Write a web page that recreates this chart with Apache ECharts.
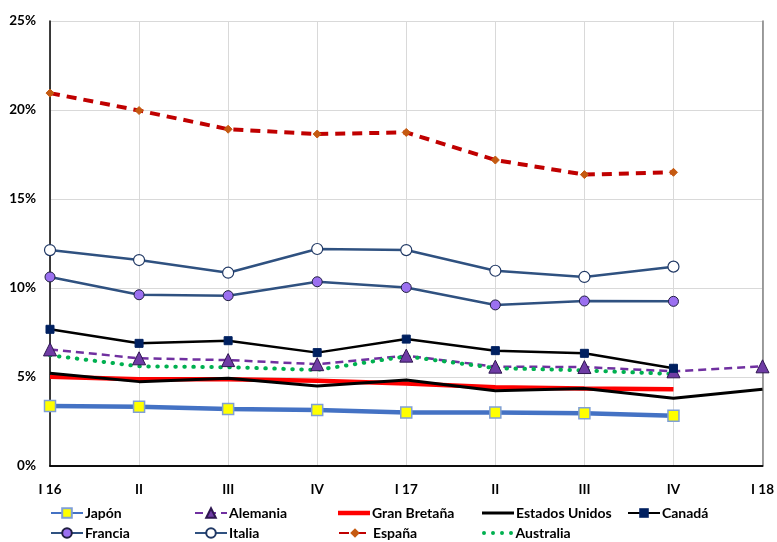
<!DOCTYPE html>
<html>
<head>
<meta charset="utf-8">
<script src="https://cdn.jsdelivr.net/npm/echarts@6/dist/echarts.min.js"></script>
<style>html,body{margin:0;padding:0;background:#fff}#c{width:777px;height:542px}</style>
</head>
<body>
<div id="c"></div>
<script>
const quarters = ['I 16','II','III','IV','I 17','II','III','IV','I 18'];
const yTicks = [0,5,10,15,20,25];
const japon   = [3.37,3.33,3.20,3.15,3.00,3.00,2.96,2.83,null];
const alemania= [6.55,6.05,5.95,5.72,6.20,5.58,5.56,5.32,5.60];
const granBretana=[5.02,4.87,4.88,4.79,4.64,4.42,4.36,4.31,null];
const eeuu    = [5.21,4.74,4.93,4.49,4.83,4.23,4.36,3.80,4.31];
const canada  = [7.68,6.89,7.04,6.37,7.13,6.48,6.33,5.49,null];
const francia = [10.62,9.62,9.57,10.35,10.03,9.05,9.27,9.25,null];
const italia  = [12.13,11.57,10.86,12.19,12.13,10.97,10.62,11.20,null];
const espana  = [20.95,19.97,18.92,18.65,18.74,17.19,16.37,16.50,null];
const australia=[6.22,5.60,5.55,5.40,6.16,5.50,5.37,5.17,null];

const FONT = 'Lato';
const chart = echarts.init(document.getElementById('c'), null, {renderer:'canvas'});

const series = [
  {name:'Japón', data:japon, lineStyle:{width:4.5,color:'#4472C4'}, symbol:'rect', symbolSize:11, itemStyle:{color:'#FFFF00',borderColor:'#7F9FD6',borderWidth:1.5}},
  {name:'Alemania', data:alemania, lineStyle:{width:2.5,color:'#7030A0',type:[8,5]}, symbol:'triangle', symbolSize:13, itemStyle:{color:'#6F3CA5',borderColor:'#2E1650',borderWidth:1}},
  {name:'Gran Bretaña', data:granBretana, lineStyle:{width:4.5,color:'#FF0000'}, symbol:'none', itemStyle:{color:'#FF0000'}},
  {name:'Estados Unidos', data:eeuu, lineStyle:{width:3,color:'#000000'}, symbol:'none', itemStyle:{color:'#000000'}},
  {name:'Canadá', data:canada, lineStyle:{width:2.5,color:'#000000'}, symbol:'rect', symbolSize:8, itemStyle:{color:'#002060',borderColor:'#002060'}},
  {name:'Francia', data:francia, lineStyle:{width:2.5,color:'#2F5180'}, symbol:'circle', symbolSize:10, itemStyle:{color:'#9B70F0',borderColor:'#1F1F40',borderWidth:1}},
  {name:'Italia', data:italia, lineStyle:{width:2.5,color:'#2F5180'}, symbol:'circle', symbolSize:11, itemStyle:{color:'#FFFFFF',borderColor:'#203864',borderWidth:1.2}},
  {name:'España', data:espana, lineStyle:{width:4,color:'#C00000',type:[10,7]}, symbol:'diamond', symbolSize:8, itemStyle:{color:'#C55A11',borderColor:'#C55A11'}},
  {name:'Australia', data:australia, lineStyle:{width:4,color:'#00B050',type:[0.5,8.5],cap:'round'}, symbol:'none', itemStyle:{color:'#00B050'}}
].map(s => Object.assign({type:'line', showSymbol: s.symbol!=='none', connectNulls:false, z:2, emphasis:{disabled:true}, animation:false}, s));

const dotPath = 'path://' + [2,11,20,29].map(c=>`M${c-2},2a2,2 0 1,0 4,0a2,2 0 1,0 -4,0Z`).join('');
const specialIcons = {
  'Gran Bretaña': {icon:'path://M0,0H32V4.5H0Z', h:4.5, color:'#FF0000'},
  'Estados Unidos': {icon:'path://M0,0H32V3H0Z', h:3, color:'#000000'},
  'Australia': {icon:dotPath, h:4, color:'#00B050'}
};

const legendPos = [
  [50,506],[194,506],[338,506],[482,506],[627,506],
  [50,526],[194,526],[338,526],[482,526]
];
const legends = series.map((s,i)=>{
  const sp = specialIcons[s.name];
  const item = sp ? {name:s.name, icon:sp.icon, itemStyle:{color:sp.color,borderWidth:0}} : {name:s.name};
  return {
    data:[item], left:legendPos[i][0], top:legendPos[i][1],
    padding:0, itemWidth:32, itemHeight: sp ? sp.h : 12, itemGap:0, selectedMode:false,
    textStyle:{fontFamily:FONT,fontWeight:'bold',fontSize:14,color:'#000',padding:[0,0,0,-3]}
  };
});

chart.setOption({
  animation:false,
  backgroundColor:'#fff',
  grid:{left:50,right:14,top:21,bottom:76,containLabel:false},
  legend:legends,
  xAxis:[{
    type:'category', data:quarters, boundaryGap:false,
    axisLine:{show:true,lineStyle:{color:'#000',width:1.5}},
    axisTick:{show:false},
    axisLabel:{fontFamily:FONT,fontWeight:'bold',fontSize:13.5,color:'#000',margin:17},
    splitLine:{show:true,lineStyle:{color:'#D9D9D9',width:1}}
  },{
    type:'category', data:quarters, boundaryGap:false, position:'top',
    axisLine:{show:true,lineStyle:{color:'#000',width:1.5}},
    axisTick:{show:false}, axisLabel:{show:false}, splitLine:{show:false}
  }],
  yAxis:[{
    type:'value', min:0, max:25, interval:5,
    axisLine:{show:true,lineStyle:{color:'#000',width:1.5}},
    axisTick:{show:false},
    axisLabel:{fontFamily:FONT,fontWeight:'bold',fontSize:13.5,color:'#000',margin:14,
      formatter:v=> yTicks.includes(v)? v+'%':''},
    splitLine:{show:true,lineStyle:{color:'#D9D9D9',width:1}}
  },{
    type:'value', min:0, max:25, interval:5, position:'right',
    axisLine:{show:true,lineStyle:{color:'#808080',width:1.5}},
    axisTick:{show:false}, axisLabel:{show:false}, splitLine:{show:false}
  }],
  series:series
});
</script>
</body>
</html>
